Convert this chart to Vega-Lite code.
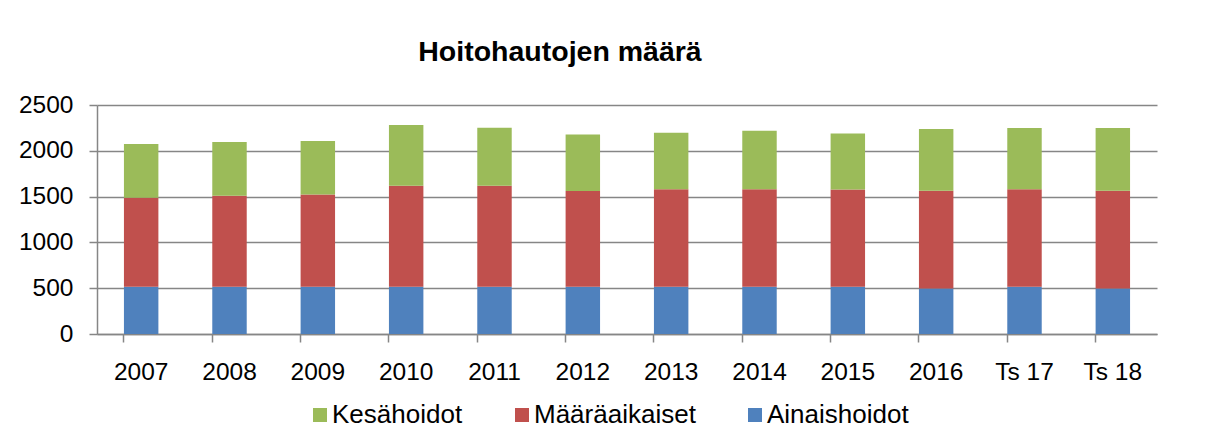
{
  "$schema": "https://vega.github.io/schema/vega-lite/v6.json",
  "autosize": {"type": "none"},
  "width": 1060,
  "height": 229,
  "padding": {"left": 97, "top": 105, "right": 53, "bottom": 111},
  "background": "white",
  "title": {
    "text": "Hoitohautojen määrä",
    "font": "Liberation Sans",
    "fontSize": 28.5,
    "fontWeight": "bold",
    "color": "black",
    "anchor": "middle",
    "frame": "group",
    "dx": -67,
    "baseline": "alphabetic",
    "offset": 3
  },
  "datasets": {
    "jarjestys": [
      {"sarja": "Ainaishoidot", "kerros": 1},
      {"sarja": "Määräaikaiset", "kerros": 2},
      {"sarja": "Kesähoidot", "kerros": 3}
    ]
  },
  "data": {
    "values": [
      {"vuosi": "2007", "sarja": "Ainaishoidot", "maara": 517},
      {"vuosi": "2007", "sarja": "Määräaikaiset", "maara": 970},
      {"vuosi": "2007", "sarja": "Kesähoidot", "maara": 586},
      {"vuosi": "2008", "sarja": "Ainaishoidot", "maara": 517},
      {"vuosi": "2008", "sarja": "Määräaikaiset", "maara": 992},
      {"vuosi": "2008", "sarja": "Kesähoidot", "maara": 586},
      {"vuosi": "2009", "sarja": "Ainaishoidot", "maara": 517},
      {"vuosi": "2009", "sarja": "Määräaikaiset", "maara": 1006},
      {"vuosi": "2009", "sarja": "Kesähoidot", "maara": 583},
      {"vuosi": "2010", "sarja": "Ainaishoidot", "maara": 517},
      {"vuosi": "2010", "sarja": "Määräaikaiset", "maara": 1101},
      {"vuosi": "2010", "sarja": "Kesähoidot", "maara": 663},
      {"vuosi": "2011", "sarja": "Ainaishoidot", "maara": 517},
      {"vuosi": "2011", "sarja": "Määräaikaiset", "maara": 1101},
      {"vuosi": "2011", "sarja": "Kesähoidot", "maara": 634},
      {"vuosi": "2012", "sarja": "Ainaishoidot", "maara": 517},
      {"vuosi": "2012", "sarja": "Määräaikaiset", "maara": 1043},
      {"vuosi": "2012", "sarja": "Kesähoidot", "maara": 619},
      {"vuosi": "2013", "sarja": "Ainaishoidot", "maara": 517},
      {"vuosi": "2013", "sarja": "Määräaikaiset", "maara": 1064},
      {"vuosi": "2013", "sarja": "Kesähoidot", "maara": 616},
      {"vuosi": "2014", "sarja": "Ainaishoidot", "maara": 517},
      {"vuosi": "2014", "sarja": "Määräaikaiset", "maara": 1064},
      {"vuosi": "2014", "sarja": "Kesähoidot", "maara": 638},
      {"vuosi": "2015", "sarja": "Ainaishoidot", "maara": 517},
      {"vuosi": "2015", "sarja": "Määräaikaiset", "maara": 1061},
      {"vuosi": "2015", "sarja": "Kesähoidot", "maara": 612},
      {"vuosi": "2016", "sarja": "Ainaishoidot", "maara": 496},
      {"vuosi": "2016", "sarja": "Määräaikaiset", "maara": 1067},
      {"vuosi": "2016", "sarja": "Kesähoidot", "maara": 674},
      {"vuosi": "Ts 17", "sarja": "Ainaishoidot", "maara": 517},
      {"vuosi": "Ts 17", "sarja": "Määräaikaiset", "maara": 1064},
      {"vuosi": "Ts 17", "sarja": "Kesähoidot", "maara": 667},
      {"vuosi": "Ts 18", "sarja": "Ainaishoidot", "maara": 496},
      {"vuosi": "Ts 18", "sarja": "Määräaikaiset", "maara": 1067},
      {"vuosi": "Ts 18", "sarja": "Kesähoidot", "maara": 685}
    ]
  },
  "transform": [
    {"lookup": "sarja", "from": {"data": {"name": "jarjestys"}, "key": "sarja", "fields": ["kerros"]}}
  ],
  "mark": {"type": "bar"},
  "encoding": {
    "x": {
      "field": "vuosi",
      "type": "nominal",
      "sort": null,
      "scale": {"paddingInner": 0.61, "paddingOuter": 0.305},
      "axis": {
        "title": null,
        "labelAngle": 0,
        "labelFont": "Liberation Sans",
        "labelFontSize": 24.5,
        "labelColor": "black",
        "labelPadding": 18,
        "domainColor": "#868686",
        "domainWidth": 1.5,
        "tickColor": "#868686",
        "tickWidth": 1.5,
        "tickSize": 8,
        "bandPosition": 0,
        "grid": false
      }
    },
    "y": {
      "field": "maara",
      "type": "quantitative",
      "stack": "zero",
      "scale": {"domain": [0, 2500], "nice": false},
      "axis": {
        "title": null,
        "values": [0, 500, 1000, 1500, 2000, 2500],
        "format": "d",
        "labelFont": "Liberation Sans",
        "labelFontSize": 24.5,
        "labelColor": "black",
        "labelPadding": 16,
        "domainColor": "#868686",
        "domainWidth": 1.5,
        "tickColor": "#868686",
        "tickWidth": 1.5,
        "tickSize": 8,
        "grid": true,
        "gridColor": "#868686",
        "gridWidth": 1.5
      }
    },
    "order": {"field": "kerros", "type": "quantitative", "sort": "ascending"},
    "color": {
      "field": "sarja",
      "type": "nominal",
      "scale": {
        "domain": ["Kesähoidot", "Määräaikaiset", "Ainaishoidot"],
        "range": ["#9BBB59", "#C0504D", "#4F81BD"]
      },
      "legend": {
        "title": null,
        "orient": "none",
        "legendX": 210,
        "legendY": 297,
        "direction": "horizontal",
        "symbolType": "square",
        "symbolSize": 196,
        "symbolStrokeWidth": 0,
        "labelFont": "Liberation Sans",
        "labelFontSize": 26,
        "labelColor": "black",
        "labelOffset": -1,
        "labelLimit": 400,
        "columnPadding": 46
      }
    }
  },
  "config": {
    "view": {"stroke": null},
    "axis": {"gridCap": "butt"}
  }
}
